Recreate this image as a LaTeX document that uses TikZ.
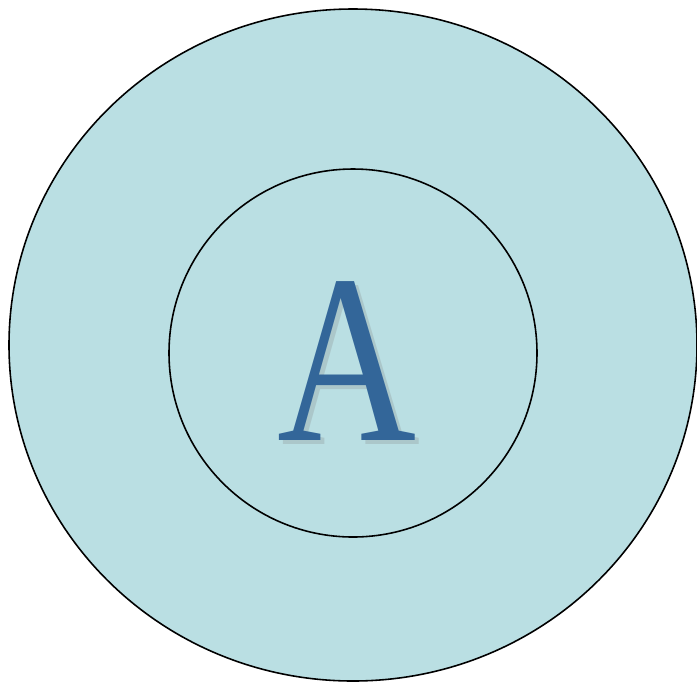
\documentclass[tikz,border=0pt]{standalone}
\usepackage{fontspec}
\setmainfont{Liberation Serif}
\usetikzlibrary{shapes.geometric}
\definecolor{ringfill}{HTML}{BADFE3}
\definecolor{letterblue}{HTML}{336699}

\begin{document}
\begin{tikzpicture}[ring/.style={ellipse, draw=black, line width=0.9pt, inner sep=0pt},
  bigletter/.style={inner sep=0pt, anchor=base, font=\fontsize{137}{137}\selectfont}]
\path[use as bounding box] (0,0) rectangle (13.94,-13.64);
\node[ring, fill=ringfill, minimum width=13.76cm, minimum height=13.44cm] (outer) at (7.06,-6.90) {};
\node[ring, minimum width=7.36cm, minimum height=7.36cm] (inner) at (7.06,-7.06) {};
% soft shadow behind the letter
\node[bigletter, text=gray, opacity=0.25] (shadow) at (7.03,-8.89) {\scalebox{0.8}[1]{A}};
\node[bigletter, text=letterblue] (letter) at (6.95,-8.80) {\scalebox{0.8}[1]{A}};
\end{tikzpicture}
\end{document}
